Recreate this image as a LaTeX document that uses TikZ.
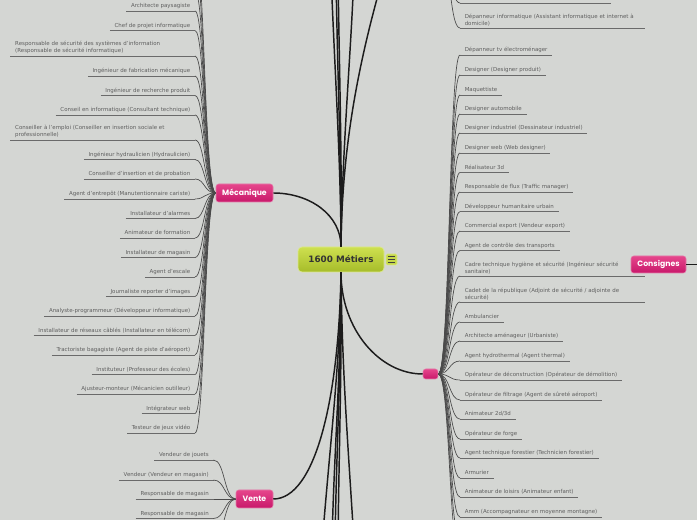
\documentclass[tikz,border=0pt]{standalone}
\usepackage{fontspec}
\setmainfont{DejaVu Sans}
\newfontfamily\catfont{Poppins}
\definecolor{bg}{HTML}{D4D6D3}
\definecolor{txt}{HTML}{5E5E5E}
\definecolor{uln}{HTML}{6A6A6A}
\definecolor{edg}{HTML}{4A4A4A}
\definecolor{mainc}{HTML}{1C1C1C}
\definecolor{pinkT}{HTML}{E6468C}
\definecolor{pinkB}{HTML}{C8186A}
\definecolor{pinkE}{HTML}{E27AA8}
\definecolor{limeT}{HTML}{CEE04F}
\definecolor{limeB}{HTML}{A6BC2A}
\definecolor{limeE}{HTML}{DCE98C}
\tikzset{
  leafbase/.style={inner xsep=3.375pt, inner ysep=1.5pt, text=txt, font=\fontsize{4.1}{5.25}\selectfont},
  leafL/.style={leafbase, anchor=south east, text height=3pt, text depth=0.9pt},
  leafR/.style={leafbase, anchor=south west, text height=3pt, text depth=0.9pt},
  leafLw/.style={leafbase, anchor=south east, text width=131.25pt, align=left},
  leafRw/.style={leafbase, anchor=south west, text width=131.25pt, align=left},
  uline/.style={draw=uln, line width=0.65pt},
  ledge/.style={draw=edg, line width=0.5pt},
  main/.style={draw=mainc, line width=1.1pt},
  cat/.style={rounded corners=2pt, top color=pinkT, bottom color=pinkB, draw=pinkE, line width=0.4pt,
    text=white, font=\catfont\bfseries\fontsize{5.8}{7}\selectfont, inner sep=0pt},
  central/.style={rounded corners=3pt, top color=limeT, bottom color=limeB, draw=limeE, line width=0.5pt,
    text=black!80, font=\bfseries\fontsize{6.6}{8}\selectfont, inner sep=0pt,
    minimum width=64.5pt, minimum height=18.75pt}
}
\begin{document}
\begin{tikzpicture}[x=0.75pt,y=-0.75pt]
\useasboundingbox (0,0) rectangle (697,520);
\fill[bg] (0,0) rectangle (697,520);
\clip (0,0) rectangle (697,520);

% main nodes
\node[central] (c) at (341,259.5) {1600 Métiers};
\node[draw=limeE, fill=limeT!80!limeB, minimum size=8.25pt, inner sep=0pt, rounded corners=1pt] (ic) at (391.5,259.5) {};
\foreach \dy in {-2,0,2}
  \draw[line width=0.5pt, black!75] ([xshift=-2.4pt,yshift=\dy pt]ic.center) -- ([xshift=2.4pt,yshift=\dy pt]ic.center);
\node[cat, minimum width=42.75pt, minimum height=13.5pt] (m) at (244.5,193) {Mécanique};
\node[cat, minimum width=27.75pt, minimum height=13.5pt] (v) at (254.5,499) {Vente};
\node[cat, minimum width=41.25pt, minimum height=12.75pt] (k) at (658.5,264.5) {Consignes};
\node[cat, minimum width=11.25pt, minimum height=7.5pt] (p) at (430.5,374) {};

% connectors from central node
\coordinate (t1) at (331,-30);
\coordinate (t2) at (336,-30);
\coordinate (t3) at (338,-30);
\coordinate (t4) at (354,-30);
\coordinate (t5) at (385,-30);
\draw[main] (c.north) .. controls (341,160) and (333,40) .. (t1);
\draw[main] (c.north) .. controls (341,150) and (337,60) .. (t2);
\draw[main] (c.north) .. controls (342,150) and (339,60) .. (t3);
\draw[main] (c.north) .. controls (342,150) and (352,40) .. (t4);
\draw[main] (c.north) .. controls (342,130) and (365,40) .. (t5);
\coordinate (b1) at (321,560);
\coordinate (b2) at (332,560);
\coordinate (b3) at (335,560);
\coordinate (b4) at (338,560);
\coordinate (b5) at (355,560);
\draw[main] (c.south) .. controls (341,360) and (328,460) .. (b1);
\draw[main] (c.south) .. controls (341,380) and (332,480) .. (b2);
\draw[main] (c.south) .. controls (341,380) and (335,480) .. (b3);
\draw[main] (c.south) .. controls (342,380) and (338,480) .. (b4);
\draw[main] (c.south) .. controls (342,380) and (350,470) .. (b5);
\draw[main] (c.north) .. controls (341,215) and (310,193) .. (m.east);
\draw[main] (c.south) .. controls (341,330) and (380,374) .. (p.west);
\draw[main] (c.south) .. controls (339,400) and (315,499) .. (v.east);
\coordinate (kr) at (720,264.5);
\draw[main] (k.east) -- (kr);

% Mecanique children
\foreach \py/\lab [count=\i] in {11/Architecte paysagiste, 30.5/Chef de projet informatique,
  76/Ingénieur de fabrication mécanique, 95.5/Ingénieur de recherche produit,
  115/Conseil en informatique (Consultant technique),
  159.5/Ingénieur hydraulicien (Hydraulicien), 179/Conseiller d'insertion et de probation,
  199/Agent d'entrepôt (Manutentionnaire cariste), 218.5/Installateur d'alarmes,
  238/Animateur de formation, 257.5/Installateur de magasin, 277/Agent d'escale,
  296.5/Journaliste reporter d'images, 316/Analyste-programmeur (Développeur informatique),
  335.5/Installateur de réseaux câblés (Installateur en télécom),
  355/Tractoriste bagagiste (Agent de piste d'aéroport),
  374.5/Instituteur (Professeur des écoles), 394/Ajusteur-monteur (Mécanicien outilleur),
  413.5/Intégrateur web, 433/Testeur de jeux vidéo} {
  \node[leafL] (ml\i) at (195,\py) {\lab};
  \draw[uline] (ml\i.south west) -- (ml\i.south east);
  \draw[ledge] (m.west) .. controls (204,193) and (205,\py) .. (ml\i.south east);
}
\node[leafLw] (mw1) at (195,56) {Responsable de sécurité des systèmes d'information\\(Responsable de sécurité informatique)};
\node[leafLw] (mw2) at (195,140) {Conseiller à l'emploi (Conseiller en insertion sociale et\\professionnelle)};
\draw[uline] (mw1.south west) -- (mw1.south east);
\draw[uline] (mw2.south west) -- (mw2.south east);
\draw[ledge] (m.west) .. controls (204,193) and (205,56) .. (mw1.south east);
\draw[ledge] (m.west) .. controls (204,193) and (205,140) .. (mw2.south east);
\foreach \py [count=\i] in {-9,-29,-49} {
  \coordinate (mo\i) at (195,\py);
  \draw[ledge] (m.west) .. controls (204,193) and (205,\py) .. (mo\i);
}

% Vente children
\foreach \py/\lab [count=\i] in {460/Vendeur de jouets, 480/Vendeur (Vendeur en magasin),
  499/Responsable de magasin, 518.5/Responsable de magasin} {
  \node[leafL] (vl\i) at (213.5,\py) {\lab};
  \draw[uline] (vl\i.south west) -- (vl\i.south east);
  \draw[ledge] (v.west) .. controls (224,499) and (225,\py) .. (vl\i.south east);
}
\coordinate (vo1) at (213.5,538);
\draw[ledge] (v.west) .. controls (224,499) and (225,538) .. (vo1);

% right children
\foreach \py/\lab [count=\i] in {55/Dépanneur tv électroménager, 75/Designer (Designer produit),
  95/Maquettiste, 114/Designer automobile, 133/Designer industriel (Dessinateur industriel),
  153/Designer web (Web designer), 172.5/Réalisateur 3d, 192/Responsable de flux (Traffic manager),
  211.5/Développeur humanitaire urbain, 231/Commercial export (Vendeur export),
  250.5/Agent de contrôle des transports, 322/Ambulancier, 341/Architecte aménageur (Urbaniste),
  361/Agent hydrothermal (Agent thermal), 380/Opérateur de déconstruction (Opérateur de démolition),
  400/Opérateur de filtrage (Agent de sûreté aéroport), 419/{Animateur 2d/3d}, 439/Opérateur de forge,
  458/Agent technique forestier (Technicien forestier), 478/Armurier,
  497/Animateur de loisirs (Animateur enfant), 517/Amm (Accompagnateur en moyenne montagne)} {
  \node[leafR] (pr\i) at (460,\py) {\lab};
  \draw[uline] (pr\i.south west) -- (pr\i.south east);
  \draw[ledge] (p.east) .. controls (450,374) and (449,\py) .. (pr\i.south west);
}
\node[leafRw] (pw1) at (460,276) {Cadre technique hygiène et sécurité (Ingénieur sécurité\\sanitaire)};
\node[leafRw] (pw2) at (460,302) {Cadet de la république (Adjoint de sécurité / adjointe de\\sécurité)};
\draw[uline] (pw1.south west) -- (pw1.south east);
\draw[uline] (pw2.south west) -- (pw2.south east);
\draw[ledge] (p.east) .. controls (450,374) and (449,276) .. (pw1.south west);
\draw[ledge] (p.east) .. controls (450,374) and (449,302) .. (pw2.south west);
\foreach \py [count=\i] in {537,556} {
  \coordinate (po\i) at (460,\py);
  \draw[ledge] (p.east) .. controls (450,374) and (449,\py) .. (po\i);
}

% top right group (parent off the page)
\coordinate (rp) at (438,-50);
\coordinate (ru1) at (460,3);
\coordinate (ru2) at (611,3);
\node[leafRw] (tw1) at (460,28) {Dépanneur informatique (Assistant informatique et internet à\\domicile)};
\draw[uline] (ru1) -- (ru2);
\draw[uline] (tw1.south west) -- (tw1.south east);
\draw[ledge] (rp) .. controls (451,-50) and (450,3) .. (ru1);
\draw[ledge] (rp) .. controls (451,-50) and (449,28) .. (tw1.south west);
\end{tikzpicture}
\end{document}
